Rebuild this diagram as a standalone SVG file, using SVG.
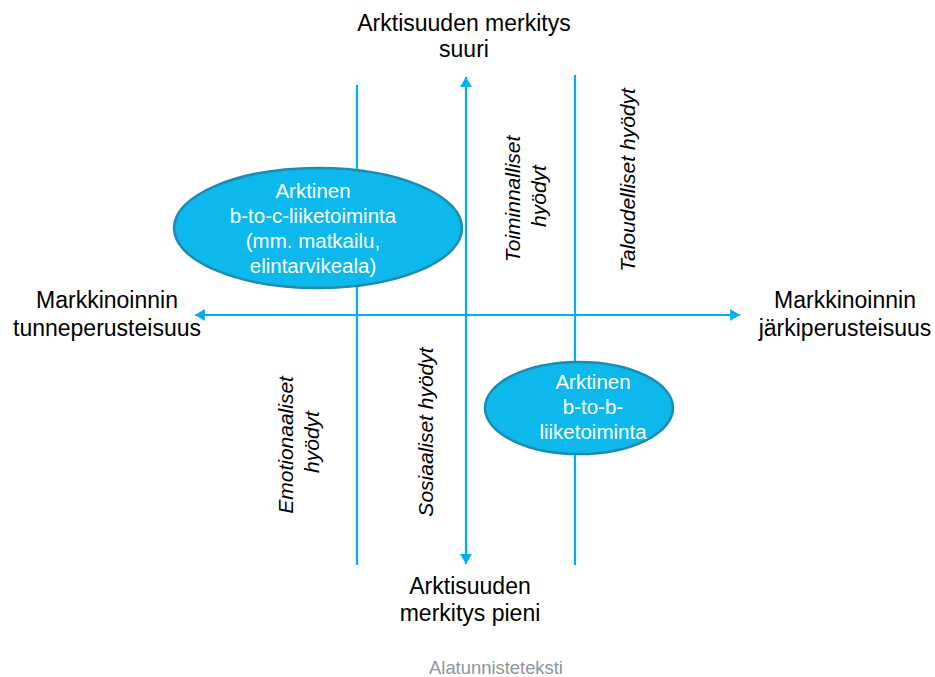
<svg xmlns="http://www.w3.org/2000/svg" width="935" height="677" viewBox="0 0 935 677">
  <defs>
    <marker id="head" viewBox="0 0 10 12" refX="10" refY="6" markerWidth="4.5" markerHeight="5.4" orient="auto-start-reverse" markerUnits="strokeWidth">
      <path d="M0,0 L10,6 L0,12 Z" fill="#00B0F0"/>
    </marker>
  </defs>
  <style>
    .axis { stroke: #00B0F0; stroke-width: 2.2; fill: none; }
    .label { font-family: "Liberation Sans", Arial, sans-serif; font-size: 23px; fill: #000; text-anchor: middle; }
    .benefit { font-family: "Liberation Sans", Arial, sans-serif; font-size: 21px; font-style: italic; fill: #000; text-anchor: middle; }
    .oval { fill: #0DB9EC; stroke: #1A8CB0; stroke-width: 2.5; }
    .oval-text { font-family: "Liberation Sans", Arial, sans-serif; font-size: 20.5px; fill: #fff; text-anchor: middle; }
    .footer { font-family: "Liberation Sans", Arial, sans-serif; font-size: 18.4px; fill: #8C9599; text-anchor: middle; }
  </style>
  <rect width="935" height="677" fill="#fff"/>

  <!-- axes and dividers -->
  <g id="connectors">
    <line class="axis" x1="357" y1="85" x2="357" y2="565"/>
    <line class="axis" x1="575" y1="75" x2="575" y2="565"/>
    <line class="axis" x1="466" y1="564" x2="466" y2="77" marker-start="url(#head)" marker-end="url(#head)"/>
    <line class="axis" x1="195" y1="315" x2="740" y2="315" marker-start="url(#head)" marker-end="url(#head)"/>
  </g>

  <g id="top-label">
    <text class="label" x="464" y="31">Arktisuuden merkitys</text>
    <text class="label" x="464" y="57">suuri</text>
  </g>
  <g id="bottom-label">
    <text class="label" x="470" y="594">Arktisuuden</text>
    <text class="label" x="470" y="621">merkitys pieni</text>
  </g>
  <g id="left-label">
    <text class="label" x="107" y="308">Markkinoinnin</text>
    <text class="label" x="107" y="336">tunneperusteisuus</text>
  </g>
  <g id="right-label">
    <text class="label" x="845" y="308">Markkinoinnin</text>
    <text class="label" x="845" y="336">järkiperusteisuus</text>
  </g>

  <g id="toiminnalliset">
    <text class="benefit" transform="translate(520,196) rotate(-90)">
      <tspan x="0" y="0">Toiminnalliset</tspan>
      <tspan x="0" y="26">hyödyt</tspan>
    </text>
  </g>
  <g id="taloudelliset">
    <text class="benefit" transform="translate(635,180) rotate(-90)" x="0" y="0">Taloudelliset hyödyt</text>
  </g>
  <g id="emotionaaliset">
    <text class="benefit" transform="translate(293,442) rotate(-90)">
      <tspan x="0" y="0">Emotionaaliset</tspan>
      <tspan x="0" y="26">hyödyt</tspan>
    </text>
  </g>
  <g id="sosiaaliset">
    <text class="benefit" transform="translate(433,432) rotate(-90)" x="0" y="0">Sosiaaliset hyödyt</text>
  </g>

  <g id="b2c">
    <ellipse class="oval" cx="318" cy="228" rx="144" ry="60"/>
    <text class="oval-text" x="313" y="198">Arktinen</text>
    <text class="oval-text" x="313" y="223">b-to-c-liiketoiminta</text>
    <text class="oval-text" x="313" y="248">(mm. matkailu,</text>
    <text class="oval-text" x="313" y="273">elintarvikeala)</text>
  </g>

  <g id="b2b">
    <ellipse class="oval" cx="579" cy="408" rx="94" ry="46"/>
    <text class="oval-text" x="593" y="389">Arktinen</text>
    <text class="oval-text" x="593" y="414">b-to-b-</text>
    <text class="oval-text" x="593" y="439">liiketoiminta</text>
  </g>

  <g id="footer">
    <text class="footer" x="496" y="674">Alatunnisteteksti</text>
  </g>
</svg>
